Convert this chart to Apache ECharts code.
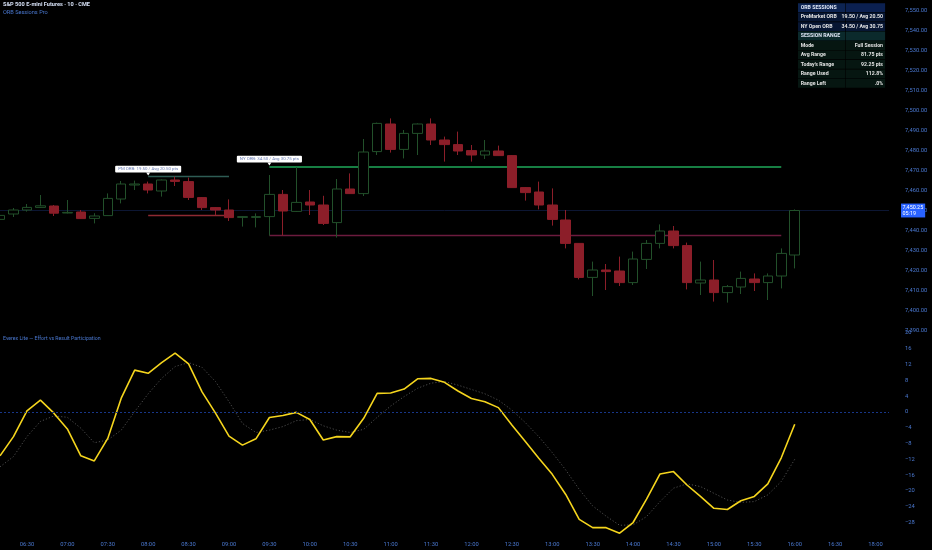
<!DOCTYPE html>
<html><head><meta charset="utf-8">
<script src="https://cdn.jsdelivr.net/npm/echarts@6/dist/echarts.min.js"></script>
<style>html,body{margin:0;padding:0;background:#000;}#c{width:932px;height:550px;}</style>
</head><body><div id="c"></div>
<script>
// ---- categories (10-minute bars, session break 17:00-18:00) ----
const categories = ['06:10','06:20','06:30','06:40','06:50','07:00','07:10','07:20','07:30','07:40','07:50',
 '08:00','08:10','08:20','08:30','08:40','08:50','09:00','09:10','09:20','09:30','09:40','09:50',
 '10:00','10:10','10:20','10:30','10:40','10:50','11:00','11:10','11:20','11:30','11:40','11:50',
 '12:00','12:10','12:20','12:30','12:40','12:50','13:00','13:10','13:20','13:30','13:40','13:50',
 '14:00','14:10','14:20','14:30','14:40','14:50','15:00','15:10','15:20','15:30','15:40','15:50',
 '16:00','16:10','16:20','16:30','16:40','16:50','18:00','18:10'];

// ---- price bars ----
const opens = [7445.8,7448.5,7450.5,7451.8,7452.5,7449,7449.5,7446.3,7447.7,7456,7463,7463.5,7460,7465.5,7464.7,7456.7,7451.7,7450.5,7446.8,7446.8,
 7447.2,7458.3,7449.8,7454.5,7453,7444.2,7461,7458.7,7479.7,7493.5,7480.8,7488.8,7493.5,7485.5,7483.2,7480.2,7478,7480,7477.7,7461.7,
 7459.5,7453,7445.5,7433.8,7416.8,7420.5,7420,7414.2,7425.8,7433.8,7440,7432.7,7414,7415.5,7409.2,7412,7416,7414.2,7417.5,7428];
const closes = [7447.8,7450.5,7451.8,7452.6,7448.9,7449.3,7446.2,7447.5,7456.3,7463.5,7463.5,7460.5,7465.5,7464.8,7456.8,7451.7,7450.5,7446.7,7447.2,7447.2,
 7458.3,7450,7454.3,7453,7443.8,7461,7458.7,7479.5,7493.8,7480.8,7488.8,7493.5,7485.5,7483.2,7480,7478,7480,7477.7,7461.7,7459.2,
 7453,7445.8,7433.8,7416.8,7420.5,7419.7,7414.2,7426,7433.8,7440,7432.7,7414.2,7415.5,7409.2,7412.2,7416.3,7414.2,7417.5,7428.8,7450.25];
const highs = [7448.5,7451.5,7453.5,7458,7453,7455.5,7450.5,7448.9,7458.8,7465,7465.2,7464.7,7465.8,7467.2,7466.7,7457,7452,7455.8,7447.5,7448.8,
 7468,7460.5,7472,7460.5,7457.6,7466,7468.8,7486,7494.2,7496.3,7490.5,7493.8,7496.3,7487.2,7489.7,7483,7485.5,7482.7,7478,7462,
 7464.7,7461.3,7450.5,7434,7424.7,7423.5,7427.2,7429.7,7435.5,7443.3,7442.5,7434.2,7424.7,7425.5,7413,7419.7,7418.8,7418.8,7431.3,7450.8];
const lows = [7445,7447,7449.7,7451.5,7447.5,7448.8,7446,7443.8,7447.5,7453.8,7460.5,7458.8,7457.2,7462.5,7455.5,7450.5,7448,7445,7442.2,7441.8,
 7437.7,7437.7,7449.5,7448,7443,7436.7,7458.5,7457.5,7478,7479.2,7476.3,7478,7483,7474.7,7478,7474.7,7476,7477.5,7461.5,7455.2,
 7450.8,7442.7,7431.3,7415.8,7407.5,7410.5,7412.5,7413,7421,7431.3,7431.3,7410.8,7408,7404.7,7404.2,7408.5,7410,7405.5,7411.3,7421.3];

// ---- oscillator ----
const effort = [-11.1,-6.25,0.25,3.0,-0.3,-4.3,-11.1,-12.4,-6.7,3.5,10.6,9.8,12.5,14.9,12.2,5.1,-0.3,-6.1,-8.4,-6.8,
 -1.4,-0.9,-0.1,-1.9,-7.1,-6.25,-6.3,-1.6,4.7,4.8,5.8,8.4,8.5,7.5,5.3,3.4,2.6,1.1,-3.3,-7.5,
 -11.7,-15.8,-20.9,-27.2,-29.3,-29.3,-30.7,-28,-22.1,-15.7,-15.1,-18.5,-21.4,-24.4,-24.7,-22.5,-21.4,-18.2,-11.6,-3.1];
const signal = [-13.9,-11.3,-6.25,-2.4,-1.0,-1.35,-4.1,-7.8,-7.1,-4.6,0.1,4.6,8.5,11.5,12.5,11.3,7.7,2.6,-2.9,-5.2,
 -4.6,-3.7,-2.2,-1.9,-3.5,-4.6,-5.2,-4.4,-1.35,1.5,3.9,6.0,7.3,7.7,6.8,5.7,4.6,3.0,0.5,-2.7,
 -6.25,-10.3,-14.7,-19.6,-23.8,-26.4,-28.7,-28.6,-26.5,-22.7,-19.3,-18.2,-18.9,-20.6,-22.3,-22.9,-22.7,-21,-17.6,-12];

// ---- ORB levels ----
const pmOrb = {high: 7467.25, low: 7447.75, start: '08:00', end: '09:00', label: 'PM ORB: 19.50 / Avg 20.50 pts'};
const nyOrb = {high: 7472.25, low: 7437.75, start: '09:30', end: '15:50', label: 'NY ORB: 34.50 / Avg 30.75 pts'};
const lastPrice = 7450.25;
const countdown = '05:19';

// ---- table ----
const tableLabels = ['ORB SESSIONS','PreMarket ORB','NY Open ORB','SESSION RANGE','Mode','Avg Range',"Today's Range",'Range Used','Range Left'];
const tableValues = ['','19.50 / Avg 20.50','34.50 / Avg 30.75','','Full Session','81.75 pts','92.25 pts','112.8%','.0%'];

const BLUE = '#4a78d0';
const FONT = 'Roboto, "Noto Sans", sans-serif';
const fmtPrice = v => v.toLocaleString('en-US', {minimumFractionDigits: 2, maximumFractionDigits: 2});

const candleData = opens.map((o, i) => [o, closes[i], lows[i], highs[i]]);

// table graphics
const tableGraphics = [];
const tX = 798, tY = 3.3, rowH = 9.44, c1W = 47, c2W = 39.5;
const rowBg = ['#0d2452','#071633','#071633','#0b2a2c','#061611','#061611','#061611','#061611','#061611'];
const rowBg2 = ['#0b2050','#071633','#071633','#0b2a2c','#061611','#061611','#061611','#061611','#061611'];
tableLabels.forEach((lab, i) => {
  const y = tY + i * rowH;
  const header = (i === 0 || i === 3);
  tableGraphics.push({type: 'rect', shape: {x: tX, y: y, width: c1W, height: rowH - 0.6}, style: {fill: rowBg[i]}, silent: true});
  tableGraphics.push({type: 'rect', shape: {x: tX + c1W + 0.6, y: y, width: c2W, height: rowH - 0.6}, style: {fill: rowBg2[i]}, silent: true});
  tableGraphics.push({type: 'text', x: tX + 2.7, y: y + rowH / 2 - 0.3, silent: true,
    style: {text: lab, fill: header ? '#dfe6f5' : '#e2e2e2', fontSize: 5.2, fontWeight: 'bold', fontFamily: FONT, verticalAlign: 'middle', align: 'left'}});
  if (tableValues[i]) {
    tableGraphics.push({type: 'text', x: tX + c1W + c2W - 1.5, y: y + rowH / 2 - 0.3, silent: true,
      style: {text: tableValues[i], fill: '#e2e2e2', fontSize: 5.2, fontWeight: 'bold', fontFamily: FONT, verticalAlign: 'middle', align: 'right'}});
  }
});

function seg(start, end, price, color, width) {
  const ls = {color: color, width: width, type: 'solid', opacity: 1};
  return [{coord: [start, price], lineStyle: ls, label: {show: false}}, {coord: [end, price], lineStyle: ls}];
}

const chart = echarts.init(document.getElementById('c'));
const gridW = (categories.length - 1) * 13.47;
chart.setOption({
  backgroundColor: '#000000',
  animation: false,
  textStyle: {fontFamily: FONT},
  grid: [
    {left: 0, top: 11, width: gridW, height: 320},
    {left: 0, top: 333, width: gridW, height: 205.3}
  ],
  xAxis: [
    {type: 'category', gridIndex: 0, data: categories, boundaryGap: false, show: false},
    {type: 'category', gridIndex: 1, data: categories, boundaryGap: false,
     axisLine: {show: false}, axisTick: {show: false}, splitLine: {show: false},
     axisLabel: {color: BLUE, fontSize: 5.8, margin: 3, hideOverlap: false,
       interval: (idx, val) => /:(00|30)$/.test(val)}}
  ],
  yAxis: [
    {type: 'value', gridIndex: 0, position: 'right', min: 7390, max: 7550, interval: 10, scale: true,
     axisLine: {show: false}, axisTick: {show: false}, splitLine: {show: false},
     axisLabel: {color: BLUE, fontSize: 5.8, margin: 16, align: 'left', showMinLabel: true, showMaxLabel: true, formatter: fmtPrice}},
    {type: 'value', gridIndex: 1, position: 'right', min: -32, max: 20, interval: 4,
     axisLine: {show: false}, axisTick: {show: false}, splitLine: {show: false},
     axisLabel: {color: BLUE, fontSize: 5.8, margin: 16, align: 'left', showMinLabel: true, showMaxLabel: true,
       formatter: v => v === -32 ? '' : (v < 0 ? '\u2212' + Math.abs(v) : String(v))}}
  ],
  graphic: [
    {type: 'text', x: 3, y: 5, silent: true, style: {text: 'S&P 500 E-mini Futures · 10 · CME', fill: '#d6e0f5', fontSize: 5.6, fontWeight: 'bold', fontFamily: FONT, verticalAlign: 'middle'}},
    {type: 'text', x: 3, y: 12.5, silent: true, style: {text: 'ORB Sessions Pro', fill: BLUE, fontSize: 5.6, fontFamily: FONT, verticalAlign: 'middle'}},
    {type: 'text', x: 3, y: 338.5, silent: true, style: {text: 'Everex Lite — Effort vs Result Participation', fill: BLUE, fontSize: 5.2, fontFamily: FONT, verticalAlign: 'middle'}},
    ...tableGraphics
  ],
  series: [
    {
      type: 'candlestick', xAxisIndex: 0, yAxisIndex: 0, data: candleData, barWidth: 10, z: 3,
      itemStyle: {color: '#000000', color0: '#8c1e29', borderColor: '#22502a', borderColor0: '#8c1e29', borderColorDoji: '#22502a', borderWidth: 1},
      markLine: {
        silent: true, symbol: ['none', 'none'], animation: false, z: 1,
        lineStyle: {color: '#0c1633', width: 1, type: 'solid', opacity: 1},
        data: [
          {yAxis: lastPrice,
           label: {show: true, position: 'end', distance: 12, formatter: fmtPrice(lastPrice) + '\n' + countdown,
             backgroundColor: '#2962ff', color: '#ffffff', fontSize: 5.4, lineHeight: 6.2, padding: [1, 2, 0.5, 1.5], align: 'left', fontFamily: FONT}},
          seg(pmOrb.start, pmOrb.end, pmOrb.high, '#2e5c54', 1.3),
          seg(pmOrb.start, pmOrb.end, pmOrb.low, '#8e2a32', 1.3),
          seg(nyOrb.start, nyOrb.end, nyOrb.high, '#1fa85a', 1.6),
          seg(nyOrb.start, nyOrb.end, nyOrb.low, '#6c1b3e', 1.3)
        ]
      },
      markPoint: {
        silent: true, animation: false,
        symbol: 'triangle', symbolRotate: 180, symbolSize: [4, 3], symbolOffset: [0, -2.6],
        itemStyle: {color: '#ffffff'},
        label: {show: true, position: 'top', distance: 0, backgroundColor: '#ffffff', color: '#6a7cb4', fontSize: 4.4, lineHeight: 5,
          padding: [0.8, 3], borderRadius: 1, fontFamily: FONT},
        data: [
          {coord: [pmOrb.start, pmOrb.high], value: pmOrb.label, label: {formatter: pmOrb.label}},
          {coord: [nyOrb.start, nyOrb.high], value: nyOrb.label, label: {formatter: nyOrb.label}}
        ]
      }
    },
    {
      type: 'line', xAxisIndex: 1, yAxisIndex: 1, data: signal, symbol: 'none', clip: false, z: 2,
      lineStyle: {color: '#4d4d4d', width: 1, type: [1.2, 2]}
    },
    {
      type: 'line', xAxisIndex: 1, yAxisIndex: 1, data: effort, symbol: 'none', clip: false, z: 3,
      lineStyle: {color: '#f5d51d', width: 1.6},
      markLine: {silent: true, symbol: ['none', 'none'], label: {show: false},
        lineStyle: {color: '#183688', width: 1, type: [2, 2]}, data: [{yAxis: 0}]}
    }
  ]
});
</script></body></html>
